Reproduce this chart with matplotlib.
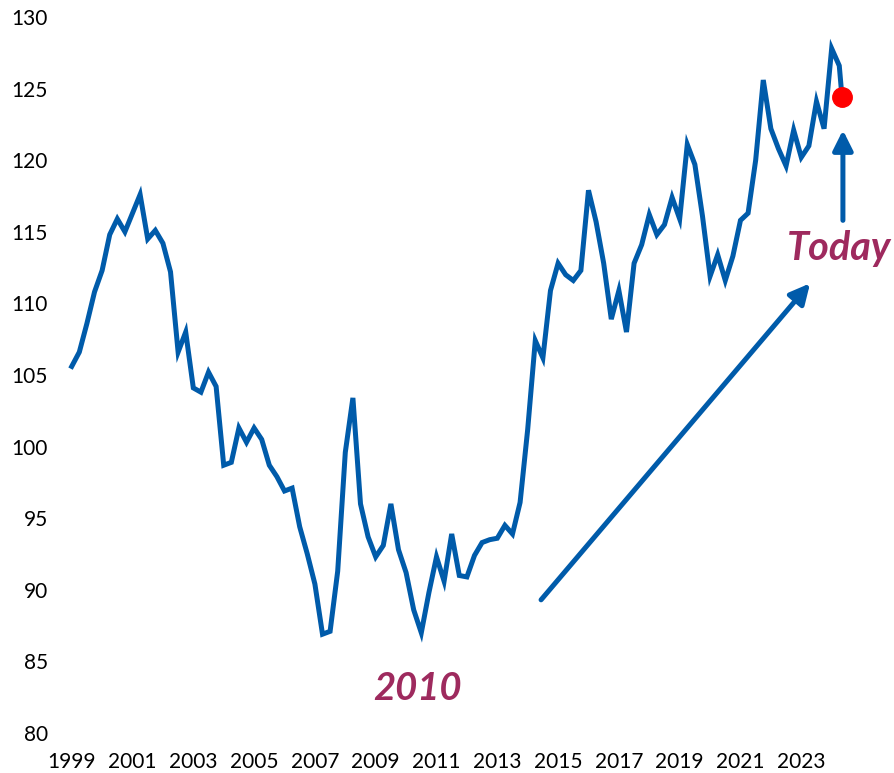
import numpy as np
import matplotlib
matplotlib.use("agg")
import matplotlib.pyplot as plt

# quarterly index values, 1999 Q1 -> 2024 Q2, plus the latest reading
values = [105.6, 106.6, 108.6, 110.8, 112.3, 114.8, 115.9, 115.0,
          116.3, 117.6, 114.5, 115.1, 114.2, 112.2, 106.6, 108.0,
          104.1, 103.8, 105.2, 104.2, 98.7, 98.9, 101.3, 100.3,
          101.3, 100.5, 98.7, 97.9, 96.9, 97.1, 94.4, 92.5,
          90.4, 86.9, 87.1, 91.3, 99.6, 103.4, 96.0, 93.7,
          92.3, 93.1, 96.0, 92.8, 91.2, 88.6, 87.0, 89.8,
          92.3, 90.6, 93.9, 91.0, 90.9, 92.4, 93.3, 93.5,
          93.6, 94.5, 93.9, 96.1, 101.2, 107.4, 106.2, 110.9,
          112.8, 112.0, 111.6, 112.3, 117.9, 115.7, 112.8, 108.9,
          110.9, 108.0, 112.8, 114.1, 116.2, 114.8, 115.5, 117.4,
          115.9, 121.1, 119.7, 116.1, 111.9, 113.4, 111.6, 113.3,
          115.8, 116.3, 120.0, 125.6, 122.2, 120.8, 119.6, 122.1,
          120.2, 121.0, 124.1, 122.2, 127.8, 126.6]
latest_year = 2024.34
latest_value = 124.4

years = list(1999 + np.arange(len(values)) * 0.25) + [latest_year]
values = values + [latest_value]

tick_years = list(range(1999, 2024, 2))
tick_labels = [str(y) for y in tick_years]

blue = "#005BAA"
maroon = "#9E2A5E"
plt.rcParams['font.family'] = ['Lato', 'DejaVu Sans']

fig = plt.figure(figsize=(8.95, 7.73), dpi=100)
ax = fig.add_axes([55 / 895, 40 / 773, 825 / 895, 716 / 773])

ax.plot(years, values, color=blue, lw=3.6, solid_joinstyle='miter', clip_on=False)
ax.plot([years[-1]], [values[-1]], 'o', color='#FF0000', ms=14, clip_on=False, zorder=5)

# trend arrow
ax.annotate("", xy=(2023.29, 111.4), xytext=(2014.44, 89.3),
            arrowprops=dict(arrowstyle='-|>,head_length=0.6,head_width=0.3',
                            color=blue, lw=3.6, mutation_scale=20, shrinkA=0, shrinkB=0))
# "today" arrow
ax.annotate("", xy=(2024.37, 122.1), xytext=(2024.37, 115.8),
            arrowprops=dict(arrowstyle='-|>,head_length=0.6,head_width=0.3',
                            color=blue, lw=3.6, mutation_scale=20, shrinkA=0, shrinkB=0))

ax.text(2010.36, 83.1, "2010", color=maroon, fontsize=27.5, fontweight='bold',
        fontstyle='italic', ha='center', va='center')
ax.text(2024.25, 113.8, "Today", color=maroon, fontsize=28.5, fontweight='bold',
        fontstyle='italic', ha='center', va='center')

ax.set_xlim(1998.45, 2025.59)
ax.set_ylim(80, 130)
ax.set_yticks(range(80, 131, 5))
ax.set_xticks(tick_years)
ax.set_xticklabels(tick_labels)
ax.tick_params(axis='both', length=0, labelsize=15)
ax.tick_params(axis='x', pad=14)
ax.tick_params(axis='y', pad=5)
for s in ax.spines.values():
    s.set_visible(False)

plt.savefig("out.png", dpi=100)
